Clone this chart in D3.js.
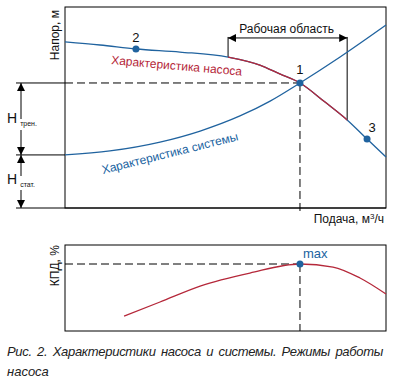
<!DOCTYPE html>
<html>
<head>
<meta charset="utf-8">
<script src="https://cdn.jsdelivr.net/npm/d3@7"></script>
<style>
  body { margin: 0; background: #fff; }
  svg { font-family: "Liberation Sans", Arial, sans-serif; }
</style>
</head>
<body>
<div id="chart"></div>
<script>
// flow, head values (relative units)
const pumpQ = [0, 10.9, 22.1, 35.8, 50.8, 60.7, 66.9, 73.2, 81.0, 87.9, 94.1, 100];
const pumpH = [82.6, 81.1, 79.1, 77.6, 75.1, 71.1, 66.7, 62.2, 52.7, 43.8, 34.3, 25.4];
const sysQ = [0, 14.0, 29.6, 42.1, 54.5, 63.9, 73.2, 85.7, 100];
const sysH = [26.4, 28.4, 32.8, 38.3, 45.8, 53.2, 62.2, 75.1, 91.0];
const effQ = [18.4, 29.6, 42.1, 57.6, 73.2, 83.5, 91.9, 100];
const effE = [17.4, 33.7, 52.3, 67.4, 77.9, 74.4, 61.6, 43.0];

const pointNames = ["1", "2", "3"];
const pointQ = [73.2, 22.1, 94.1];
const pointH = [62.2, 79.1, 34.3];

const workQ = [50.8, 87.9];   // "Рабочая область" limits
const workArrowH = 84.6;
const maxQ = 73.2, maxE = 77.9;
const hStat = 26.4, hDuty = 62.2;

const blue = "#20639f", red = "#b5283a";

const W = 400, H = 387;
const svg = d3.select("#chart").append("svg").attr("width", W).attr("height", H);

const x = d3.scaleLinear().domain([0, 100]).range([65, 386]);
const y = d3.scaleLinear().domain([0, 100]).range([208, 7]);
const y2 = d3.scaleLinear().domain([0, 100]).range([331, 245]);

const defs = svg.append("defs");
defs.append("marker").attr("id", "arr")
  .attr("viewBox", "0 0 10 10").attr("refX", 10).attr("refY", 5)
  .attr("markerWidth", 8).attr("markerHeight", 8).attr("markerUnits", "userSpaceOnUse")
  .attr("orient", "auto-start-reverse")
  .append("path").attr("d", "M0,0L10,5L0,10Z").attr("fill", "#000");

// frames
svg.append("rect").attr("x", x(0)).attr("y", y(100)).attr("width", x(100) - x(0)).attr("height", y(0) - y(100))
  .attr("fill", "none").attr("stroke", "#000").attr("stroke-width", 1);
svg.append("rect").attr("x", x(0)).attr("y", y2(100)).attr("width", x(100) - x(0)).attr("height", y2(0) - y2(100))
  .attr("fill", "none").attr("stroke", "#000").attr("stroke-width", 1);

// left annotation lines
const leftX = 16, arrX = 21;
svg.append("line").attr("x1", leftX).attr("x2", x(100)).attr("y1", y(0)).attr("y2", y(0)).attr("stroke", "#000");
svg.append("line").attr("x1", leftX).attr("x2", x(0)).attr("y1", y(hStat)).attr("y2", y(hStat)).attr("stroke", "#000");
svg.append("line").attr("x1", leftX).attr("x2", x(0)).attr("y1", y(hDuty)).attr("y2", y(hDuty)).attr("stroke", "#000");

// dashed guide lines
const dash = "8,4";
svg.append("line").attr("x1", x(0)).attr("x2", x(pointQ[0])).attr("y1", y(hDuty)).attr("y2", y(hDuty))
  .attr("stroke", "#000").attr("stroke-dasharray", dash);
svg.append("line").attr("x1", x(pointQ[0])).attr("x2", x(pointQ[0])).attr("y1", y(hDuty)).attr("y2", y(0) + 4)
  .attr("stroke", "#000").attr("stroke-dasharray", dash);
svg.append("line").attr("x1", x(0)).attr("x2", x(maxQ)).attr("y1", y2(maxE)).attr("y2", y2(maxE))
  .attr("stroke", "#000").attr("stroke-dasharray", dash);
svg.append("line").attr("x1", x(maxQ)).attr("x2", x(maxQ)).attr("y1", y2(maxE)).attr("y2", y2(0))
  .attr("stroke", "#000").attr("stroke-dasharray", dash);

// H arrows (split around the subscripts)
function vArrow(yFrom, yTo, gapTop, gapBot) {
  svg.append("line").attr("x1", arrX).attr("x2", arrX).attr("y1", gapTop).attr("y2", yFrom)
    .attr("stroke", "#000").attr("marker-end", "url(#arr)");
  svg.append("line").attr("x1", arrX).attr("x2", arrX).attr("y1", gapBot).attr("y2", yTo)
    .attr("stroke", "#000").attr("marker-end", "url(#arr)");
}
vArrow(y(hDuty), y(hStat), 119, 130);
vArrow(y(hStat), y(0), 176, 190);

function hLabel(ty, sub) {
  const t = svg.append("text").attr("x", 7).attr("y", ty).attr("font-size", 14).attr("fill", "#111");
  t.append("tspan").text("H");
  t.append("tspan").attr("dx", 3).attr("dy", 3).attr("font-size", 7).text(sub);
}
hLabel(123, "трен.");
hLabel(184, "стат.");

// working area
workQ.forEach(q => {
  const i = d3.bisectLeft(pumpQ, q);
  svg.append("line").attr("x1", x(q)).attr("x2", x(q))
    .attr("y1", y(pumpH[i])).attr("y2", y(workArrowH) - 1).attr("stroke", "#000");
});
svg.append("line").attr("x1", x(workQ[0])).attr("x2", x(workQ[1]))
  .attr("y1", y(workArrowH)).attr("y2", y(workArrowH)).attr("stroke", "#000")
  .attr("marker-start", "url(#arr)").attr("marker-end", "url(#arr)");
svg.append("text").attr("x", (x(workQ[0]) + x(workQ[1])) / 2 - 1).attr("y", y(workArrowH) - 5)
  .attr("text-anchor", "middle").attr("font-size", 12).attr("fill", "#111").text("Рабочая область");

// curves
const line = d3.line().x(d => x(d[0])).y(d => y(d[1])).curve(d3.curveMonotoneX);
const pump = d3.zip(pumpQ, pumpH);
const sys = d3.zip(sysQ, sysH);

svg.append("path").attr("d", line(sys)).attr("fill", "none").attr("stroke", blue).attr("stroke-width", 1.3);
svg.append("path").attr("d", line(pump)).attr("fill", "none").attr("stroke", blue).attr("stroke-width", 1.3);
defs.append("clipPath").attr("id", "work").append("rect")
  .attr("x", x(workQ[0])).attr("y", 0).attr("width", x(workQ[1]) - x(workQ[0])).attr("height", H);
svg.append("path").attr("d", line(pump)).attr("fill", "none").attr("stroke", red).attr("stroke-width", 1.3)
  .attr("clip-path", "url(#work)");

const line2 = d3.line().x(d => x(d[0])).y(d => y2(d[1])).curve(d3.curveMonotoneX);
svg.append("path").attr("d", line2(d3.zip(effQ, effE))).attr("fill", "none").attr("stroke", red).attr("stroke-width", 1.3);

// curve labels
svg.append("text").attr("transform", `translate(${x(14.3)},${y(71.6)}) rotate(5)`)
  .attr("font-size", 12).attr("fill", red).text("Характеристика насоса");
svg.append("text").attr("transform", `translate(${x(11.8)},${y(16.9)}) rotate(-14)`)
  .attr("font-size", 12).attr("fill", blue).text("Характеристика системы");

// points
const pts = d3.zip(pointNames, pointQ, pointH);
svg.selectAll(".pt").data(pts).enter().append("circle")
  .attr("cx", d => x(d[1])).attr("cy", d => y(d[2])).attr("r", 3.5).attr("fill", blue);
const labelOff = { "1": [0, -9], "2": [0, -7], "3": [5, -7] };
svg.selectAll(".pl").data(pts).enter().append("text")
  .attr("x", d => x(d[1]) + labelOff[d[0]][0]).attr("y", d => y(d[2]) + labelOff[d[0]][1])
  .attr("text-anchor", "middle").attr("font-size", 13).attr("fill", "#111").text(d => d[0]);

svg.append("circle").attr("cx", x(maxQ)).attr("cy", y2(maxE)).attr("r", 3.5).attr("fill", blue);
svg.append("text").attr("x", x(maxQ) + 3).attr("y", y2(maxE) - 6)
  .attr("font-size", 13).attr("fill", blue).text("max");

// axis titles
svg.append("text").attr("transform", `translate(59,${y(86)}) rotate(-90)`)
  .attr("text-anchor", "middle").attr("font-size", 12).attr("fill", "#111").text("Напор, м");
svg.append("text").attr("transform", `translate(59,${y2(76)}) rotate(-90)`)
  .attr("text-anchor", "middle").attr("font-size", 12).attr("fill", "#111").text("КПД, %");
const xt = svg.append("text").attr("x", 384).attr("y", 223).attr("text-anchor", "end")
  .attr("font-size", 12).attr("fill", "#111");
xt.append("tspan").text("Подача, м");
xt.append("tspan").attr("dy", -4).attr("font-size", 8).text("3");
xt.append("tspan").attr("dy", 4).text("/ч");

// caption, first line justified to the frame width
const capText = "Рис. 2. Характеристики насоса и системы. Режимы работы";
const cap1 = svg.append("text").attr("x", 7).attr("y", 356).attr("font-size", 13)
  .attr("font-style", "italic").attr("fill", "#222").text(capText);
const target = 383 - 7, gaps = 7;
let w = cap1.node().getComputedTextLength();
if (w > target - gaps * 2) {
  const ls = (target - gaps * 2 - w) / capText.length;
  cap1.attr("letter-spacing", ls);
  w = cap1.node().getComputedTextLength();
}
cap1.attr("word-spacing", Math.max(0, (target - w) / gaps));
svg.append("text").attr("x", 7).attr("y", 376).attr("font-size", 13)
  .attr("font-style", "italic").attr("fill", "#222").text("насоса");
</script>
</body>
</html>
